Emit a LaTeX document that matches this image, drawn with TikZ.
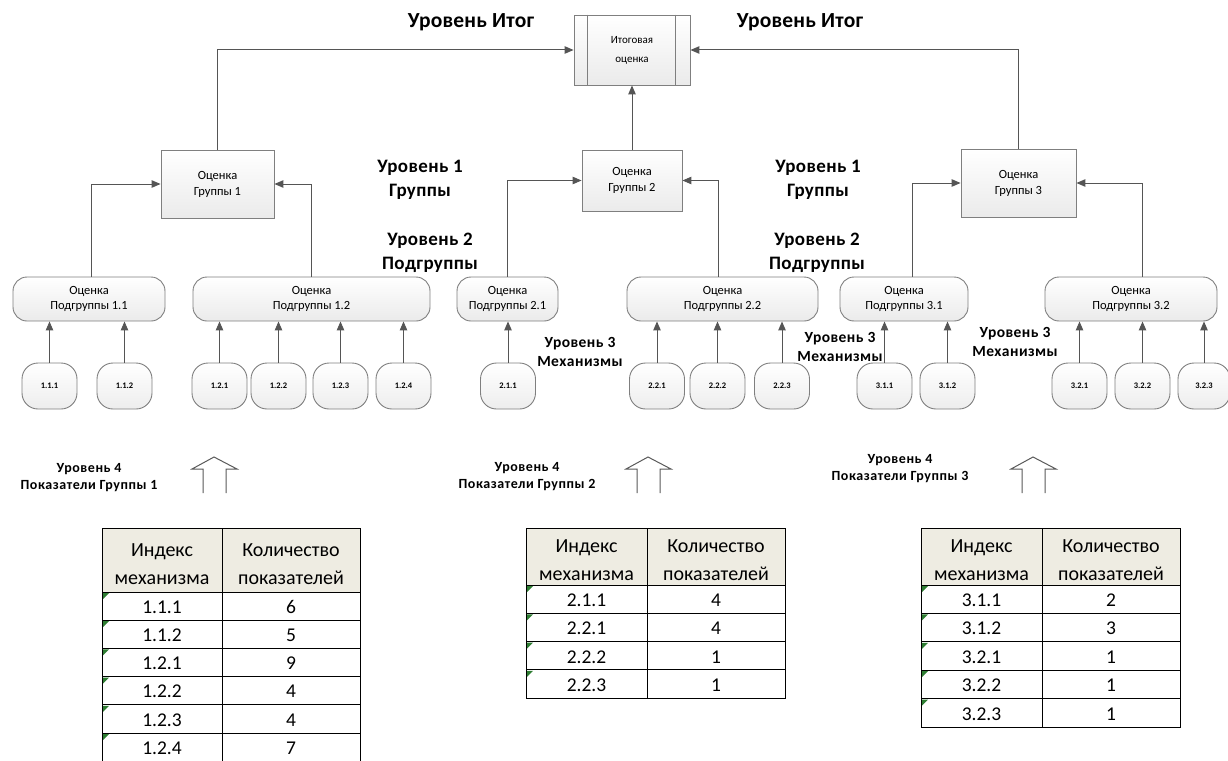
\documentclass[tikz,border=0pt]{standalone}
\usepackage{fontspec}
\setmainfont{Carlito}
\usetikzlibrary{arrows.meta}
\definecolor{linec}{HTML}{555555}
\definecolor{boxc}{HTML}{7F7F7F}
\definecolor{hdr}{HTML}{EEECE2}
\definecolor{trig}{HTML}{2E7D32}
\newcommand{\mechtable}[9]{%
  % #1 L, #2 M, #3 R, #4 top, #5 header bottom, #6 row h, #7 list, #8 bottom, #9 prefix
  \fill[hdr] (#1,#4) rectangle (#3,#5);
  \node[hd] (#9-h1) at ({(#1+#2)/2},{(#4+#5)/2+4}) {Индекс\\механизма};
  \node[hd] (#9-h2) at ({(#2+#3)/2},{(#4+#5)/2+4}) {Количество\\показателей};
  \foreach \a/\b [count=\i] in {#7} {
    \node[cell] (#9-a\i) at ({(#1+#2)/2},{#5+(\i-0.5)*#6+1}) {\a};
    \node[cell] (#9-b\i) at ({(#2+#3)/2},{#5+(\i-0.5)*#6+1}) {\b};
    \fill[trig] ({#1+1},{#5+(\i-1)*#6+1}) -- ++(6,0) -- ++(-6,6) -- cycle;
    \draw[tline] (#1,{#5+\i*#6}) -- (#3,{#5+\i*#6});
  }
  \draw[tline] (#1,#5) -- (#3,#5);
  \draw[tline] (#1,#4) rectangle (#3,#8);
  \draw[tline] (#2,#4) -- (#2,#8);
}
\begin{document}
\begin{tikzpicture}[x=1pt,y=-1pt,
  line/.style={draw=linec,line width=1pt},
  arr/.style={line,-{Triangle[length=9pt,width=7.5pt]}},
  gbox/.style={draw=boxc,line width=0.9pt,top color=white,bottom color=gray!16,
    align=center,inner sep=0pt,font=\fontsize{12.5}{16}\selectfont},
  sbox/.style={draw=boxc,line width=0.9pt,top color=white,bottom color=gray!16,
    rounded corners=14pt,minimum height=44pt,align=center,inner sep=0pt,
    font=\fontsize{12.5}{15}\selectfont},
  mbox/.style={draw=boxc,line width=0.9pt,top color=white,bottom color=gray!14,
    rounded corners=16pt,minimum width=55pt,minimum height=46pt,inner sep=0pt,
    font=\bfseries\fontsize{8.5}{10}\selectfont},
  lbl/.style={align=center,inner sep=0pt,font=\bfseries\fontsize{19}{24}\selectfont\addfontfeature{LetterSpace=2}},
  lblc/.style={align=center,inner sep=0pt,font=\bfseries\fontsize{15.5}{19}\selectfont\addfontfeature{LetterSpace=3}},
  lbld/.style={align=center,inner sep=0pt,font=\bfseries\fontsize{14}{17}\selectfont\addfontfeature{LetterSpace=4}},
  hd/.style={align=center,inner sep=0pt,font=\fontsize{20}{28}\selectfont},
  cell/.style={inner sep=0pt,font=\fontsize{19.5}{22}\selectfont},
  tline/.style={draw=black,line width=1pt},
  hollow/.style={draw=gray!70!black,line width=1pt,fill=white},
]
\useasboundingbox (0,0) rectangle (1228,760);

% top box
\node[gbox,minimum width=116pt,minimum height=70pt,
  font=\fontsize{11}{19}\selectfont] (top) at (632,50) {Итоговая\\оценка};
\draw[draw=boxc,line width=0.9pt] ([xshift=14pt]top.north west) -- ([xshift=14pt]top.south west);
\draw[draw=boxc,line width=0.9pt] ([xshift=-15pt]top.north east) -- ([xshift=-15pt]top.south east);

% group boxes
\node[gbox,minimum width=113pt,minimum height=68pt] (g1) at (217.5,184) {Оценка\\Группы 1};
\node[gbox,minimum width=100pt,minimum height=61pt] (g2) at (632,180.5) {Оценка\\Группы 2};
\node[gbox,minimum width=115pt,minimum height=68pt] (g3) at (1018.5,183) {Оценка\\Группы 3};

% subgroup boxes
\node[sbox,minimum width=152pt] (s11) at (89,299) {Оценка\\Подгруппы 1.1};
\node[sbox,minimum width=237pt] (s12) at (311.5,299) {Оценка\\Подгруппы 1.2};
\node[sbox,minimum width=101pt] (s21) at (507.5,299) {Оценка\\Подгруппы 2.1};
\node[sbox,minimum width=191pt] (s22) at (722.5,299) {Оценка\\Подгруппы 2.2};
\node[sbox,minimum width=128pt] (s31) at (904,299) {Оценка\\Подгруппы 3.1};
\node[sbox,minimum width=172pt] (s32) at (1131,299) {Оценка\\Подгруппы 3.2};

% mechanisms
\node[mbox] (m111) at (49.5,386) {1.1.1};
\node[mbox] (m112) at (124.5,386) {1.1.2};
\node[mbox] (m121) at (219.5,386) {1.2.1};
\node[mbox] (m122) at (278.5,386) {1.2.2};
\node[mbox] (m123) at (340.5,386) {1.2.3};
\node[mbox] (m124) at (403.5,386) {1.2.4};
\node[mbox] (m211) at (508,386) {2.1.1};
\node[mbox] (m221) at (657,386) {2.2.1};
\node[mbox] (m222) at (717.5,386) {2.2.2};
\node[mbox] (m223) at (782,386) {2.2.3};
\node[mbox] (m311) at (884.5,386) {3.1.1};
\node[mbox] (m312) at (947.5,386) {3.1.2};
\node[mbox] (m321) at (1079.5,386) {3.2.1};
\node[mbox] (m322) at (1142.5,386) {3.2.2};
\node[mbox,minimum width=52pt] (m323) at (1204,386) {3.2.3};

% mechanism -> subgroup arrows
\foreach \m/\s in {m111/s11,m112/s11,m121/s12,m122/s12,m123/s12,m124/s12,
  m211/s21,m221/s22,m222/s22,m223/s22,m311/s31,m312/s31,m321/s32,m322/s32,m323/s32}
  \draw[arr] (\m.north) -- (\m.north |- \s.south);

% subgroup -> group arrows
\draw[arr] ([xshift=2pt]s11.north) |- (g1.west);
\draw[arr] (s12.north) |- (g1.east);
\draw[arr] (s21.north) |- (g2.west);
\draw[arr] ([xshift=-4pt]s22.north) |- (g2.east);
\draw[arr] ([xshift=8pt]s31.north) |- (g3.west);
\draw[arr] ([xshift=11pt]s32.north) |- (g3.east);

% group -> top arrows
\draw[arr] (g1.north) |- (top.west);
\draw[arr] (g3.north) |- (top.east);
\draw[arr] (g2.north) -- (top.south);

% level labels
\node[lbl,font=\bfseries\fontsize{21.5}{24}\selectfont\addfontfeature{LetterSpace=1}] (li1) at (471,22) {Уровень Итог};
\node[lbl,font=\bfseries\fontsize{21.5}{24}\selectfont\addfontfeature{LetterSpace=1}] (li2) at (800,22) {Уровень Итог};
\node[lbl] (l1a) at (420,180) {Уровень 1\\Группы};
\node[lbl] (l1b) at (818,180) {Уровень 1\\Группы};
\node[lbl] (l2a) at (430,253) {Уровень 2\\Подгруппы};
\node[lbl] (l2b) at (817,253) {Уровень 2\\Подгруппы};
\node[lblc] (l3a) at (580,352) {Уровень 3\\Механизмы};
\node[lblc] (l3b) at (840,347) {Уровень 3\\Механизмы};
\node[lblc] (l3c) at (1015,342) {Уровень 3\\Механизмы};
\node[lbld] (l4a) at (89,478) {Уровень 4\\Показатели Группы 1};
\node[lbld] (l4b) at (527,477) {Уровень 4\\Показатели Группы 2};
\node[lbld] (l4c) at (900,469) {Уровень 4\\Показатели Группы 3};

% hollow arrows
\foreach \c in {214,648,1033}
  \draw[hollow] (\c-11,493) -- (\c-11,469) -- (\c-22,469) -- (\c,457) -- (\c+23,469)
    -- (\c+12,469) -- (\c+12,493);

% tables
\mechtable{102}{222}{360}{528}{592}{28.2}{1.1.1/6,1.1.2/5,1.2.1/9,1.2.2/4,1.2.3/4,1.2.4/7}{761}{t1}
\mechtable{526}{647}{785}{528}{585}{28.3}{2.1.1/4,2.2.1/4,2.2.2/1,2.2.3/1}{698.2}{t2}
\mechtable{921}{1042}{1180}{528}{585}{28.4}{3.1.1/2,3.1.2/3,3.2.1/1,3.2.2/1,3.2.3/1}{727}{t3}
\end{tikzpicture}
\end{document}
